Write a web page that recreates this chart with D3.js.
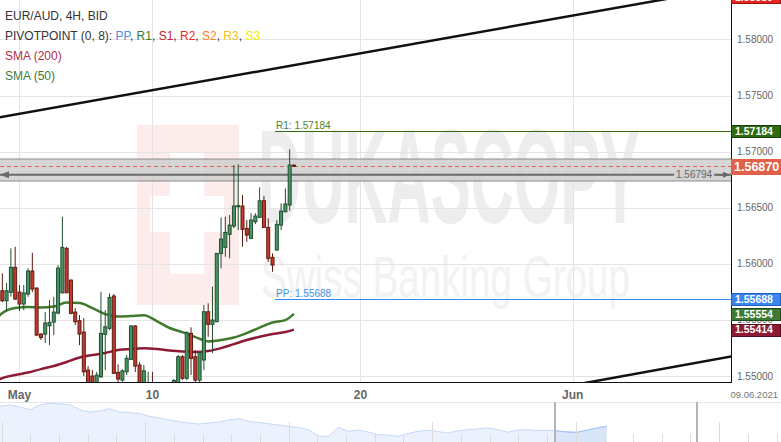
<!DOCTYPE html>
<html>
<head>
<meta charset="utf-8">
<script src="https://cdn.jsdelivr.net/npm/d3@7"></script>
<style>
  body { margin: 0; background: #fff; }
  svg { display: block; font-family: Arial, "Liberation Sans", sans-serif; }
</style>
</head>
<body>
<div id="chart"></div>
<script>
// Size of the page and of the price pane
const w = 781;
const h = 442;
const plotR = 731;
const plotB = 382;

// 4H candles, index 0 = first bar on screen
const opens  = [1.55760,1.55671,1.55746,1.55969,1.55748,1.55642,1.55731,1.55936,1.55784,1.55374,
                1.55374,1.55448,1.55481,1.55561,1.55742,1.56138,1.55855,1.55570,1.55493,1.55392,
                1.55053,1.55000,1.54938,1.54994,1.55372,1.55425,1.55713,1.55033,1.54964,1.55038,
                1.55149,1.55446,1.55098,1.54920,1.54831,1.54911,1.54880,1.54820,1.54870,1.54830,
                1.54890,1.54920,1.55172,1.54980,1.55380,1.55172,1.54964,1.55143,1.55573,1.55461,
                1.55484,1.56093,1.56147,1.56263,1.56337,1.56508,1.56515,1.56316,1.56227,1.56375,
                1.56414,1.56562,1.56325,1.56058,1.56123,1.56345,1.56464,1.56524,1.56878];
const highs  = [1.55915,1.55831,1.56138,1.56152,1.55811,1.55811,1.55962,1.56099,1.55790,1.55383,
                1.55570,1.55677,1.55707,1.55989,1.56419,1.56152,1.55860,1.55606,1.55544,1.55517,
                1.55089,1.55053,1.55036,1.55751,1.55588,1.55737,1.55731,1.55104,1.55060,1.55187,
                1.55454,1.55454,1.55125,1.55098,1.55038,1.55038,1.54930,1.54900,1.54920,1.54930,
                1.54973,1.55187,1.55187,1.55395,1.55434,1.55232,1.55220,1.55633,1.55648,1.55796,
                1.56096,1.56414,1.56419,1.56435,1.56880,1.56886,1.56613,1.56390,1.56450,1.56450,
                1.56681,1.56606,1.56405,1.56093,1.56390,1.56539,1.56672,1.57020,1.56890];
const lows   = [1.55659,1.55579,1.55707,1.55677,1.55579,1.55588,1.55707,1.55748,1.55356,1.55321,
                1.55294,1.55276,1.55365,1.55550,1.55735,1.55740,1.55550,1.55454,1.55276,1.55000,
                1.54875,1.54911,1.54911,1.54982,1.55053,1.55410,1.55018,1.54947,1.54929,1.55009,
                1.55143,1.55036,1.54880,1.54893,1.54804,1.54786,1.54780,1.54750,1.54800,1.54790,
                1.54850,1.54911,1.54964,1.54964,1.55009,1.54929,1.54920,1.55053,1.55350,1.55205,
                1.55481,1.55960,1.56063,1.56049,1.56319,1.56301,1.56152,1.56197,1.56220,1.56354,
                1.56408,1.56320,1.56018,1.55929,1.56118,1.56301,1.56460,1.56473,1.56866];
const closes = [1.55671,1.55760,1.55969,1.55686,1.55642,1.55740,1.55936,1.55775,1.55365,1.55343,
                1.55472,1.55478,1.55570,1.55962,1.56147,1.55742,1.55559,1.55484,1.55374,1.55038,
                1.54920,1.54938,1.55009,1.55380,1.55439,1.55701,1.55024,1.54973,1.55047,1.55158,
                1.55446,1.55089,1.54920,1.55047,1.54920,1.54822,1.54820,1.54870,1.54830,1.54900,
                1.54960,1.55172,1.54980,1.55389,1.55158,1.54964,1.55208,1.55573,1.55461,1.55499,
                1.56093,1.56221,1.56280,1.56345,1.56515,1.56519,1.56307,1.56256,1.56390,1.56426,
                1.56562,1.56325,1.56049,1.55989,1.56352,1.56470,1.56533,1.56880,1.56870];

// Moving averages read at some bars
const smaIdx = [-1,0,3,6,9,12,15,18,21,24,27,30,33,36,39,42,45,48,51,54,57,60,63,66,68];
const sma50  = [1.55526,1.55561,1.55606,1.55615,1.55610,1.55619,1.55655,1.55650,1.55606,1.55552,
                1.55530,1.55535,1.55541,1.55490,1.55428,1.55392,1.55347,1.55309,1.55321,1.55343,
                1.55383,1.55432,1.55477,1.55499,1.55554];
const sma200 = [1.54964,1.54982,1.55009,1.55031,1.55062,1.55089,1.55125,1.55165,1.55187,1.55205,
                1.55232,1.55241,1.55247,1.55241,1.55227,1.55218,1.55214,1.55223,1.55249,1.55285,
                1.55321,1.55350,1.55374,1.55392,1.55414];

// Levels
const pivotPP = 1.55688;
const pivotR1 = 1.57184;
const pivotStart = 63.6;
const lastPrice = 1.56870;
const zoneTop = 1.56934;
const zoneBottom = 1.56738;
const zoneLine = 1.56794;
const topTag = 1.58380;

// Trend channel, [bar, price]
const trendUpper = [[-1, 1.57303], [170, 1.58463]];
const trendLower = [[130, 1.54898], [170, 1.55174]];

// Axis ticks
const yTicks = [1.55, 1.555, 1.56, 1.565, 1.57, 1.575, 1.58];
const xTickIdx = [4, 35, 83.5, 133];
const xTickLabels = ["May", "10", "20", "Jun"];
const dateLabel = "09.06.2021";

// Legend
const title = "EUR/AUD, 4H, BID";
const pivotNames = ["PP", "R1", "S1", "R2", "S2", "R3", "S3"];
const pivotColors = ["#4a90e2", "#3d7a1e", "#c8242b", "#f0281e", "#f7861c", "#f9c01a", "#f2ea00"];

// Navigator closes (long history)
const navClose = [1.6137,1.6167,1.6122,1.6061,1.6167,1.6205,1.6190,1.6178,1.6061,1.6009,
                  1.6032,1.6083,1.6009,1.5995,1.5975,1.5912,1.5874,1.5830,1.5795,1.5760,
                  1.5739,1.5762,1.5784,1.5830,1.5858,1.5800,1.5773,1.5746,1.5717,1.5687,
                  1.5660,1.5611,1.5462,1.5462,1.5665,1.5575,1.5604,1.5560,1.5498,1.5492,
                  1.5462,1.5525,1.5575,1.5597,1.5570,1.5537,1.5582,1.5611,1.5627,1.5649,
                  1.5615,1.5552,1.5604,1.5611,1.5593,1.5597,1.5582,1.5560,1.5552,1.5600,
                  1.5649,1.5687];
const navWindow = [55.8, 70];
const navWeek = 2.884;

const svg = d3.select("#chart").append("svg")
  .attr("width", w)
  .attr("height", h);

svg.append("defs").append("clipPath").attr("id", "plotClip")
  .append("rect").attr("x", 0).attr("y", 0).attr("width", plotR).attr("height", plotB);

// Scales
const x = d3.scaleLinear().domain([-0.54, 169.9]).range([0, plotR]);
const y = d3.scaleLinear().domain([1.54947, 1.58351]).range([plotB, 0]);

const plot = svg.append("g").attr("clip-path", "url(#plotClip)");

// Watermark
const wm = plot.append("g");
wm.append("rect").attr("x", 137).attr("y", 125).attr("width", 102).attr("height", 180).attr("fill", "#fcecec");
wm.append("rect").attr("x", 170).attr("y", 152).attr("width", 34).attr("height", 122).attr("fill", "#fff");
wm.append("rect").attr("x", 150).attr("y", 196).attr("width", 74).attr("height", 36).attr("fill", "#fff");
wm.append("text")
  .attr("x", 258).attr("y", 223)
  .attr("font-size", 134).attr("font-weight", "bold")
  .attr("fill", "#ededed")
  .attr("textLength", 382).attr("lengthAdjust", "spacingAndGlyphs")
  .text("DUKASCOPY");
wm.append("text")
  .attr("x", 261).attr("y", 297)
  .attr("font-size", 58)
  .attr("fill", "#f2f2f2")
  .attr("textLength", 369).attr("lengthAdjust", "spacingAndGlyphs")
  .text("Swiss Banking Group");

// Grid
plot.selectAll(".hgrid").data(yTicks).enter().append("line")
  .attr("x1", 0).attr("x2", plotR)
  .attr("y1", d => Math.round(y(d)) + 0.5).attr("y2", d => Math.round(y(d)) + 0.5)
  .attr("stroke", "#e4e4e4");
plot.selectAll(".vgrid").data(xTickIdx).enter().append("line")
  .attr("x1", d => Math.round(x(d)) + 0.5).attr("x2", d => Math.round(x(d)) + 0.5)
  .attr("y1", 0).attr("y2", plotB)
  .attr("stroke", "#e4e4e4");

// Grey zone with its level line
plot.append("rect")
  .attr("x", 0).attr("width", plotR)
  .attr("y", y(zoneTop)).attr("height", y(zoneBottom) - y(zoneTop))
  .attr("fill", "#cfcfcf").attr("fill-opacity", 0.85);
[zoneTop, zoneBottom].forEach(v => {
  plot.append("line").attr("x1", 0).attr("x2", plotR)
    .attr("y1", y(v)).attr("y2", y(v))
    .attr("stroke", "#8a8a8a").attr("stroke-width", 1.2);
});
plot.append("line").attr("x1", 0).attr("x2", plotR)
  .attr("y1", y(zoneLine)).attr("y2", y(zoneLine))
  .attr("stroke", "#6a6a6a").attr("stroke-width", 2);
plot.append("path")
  .attr("d", `M0,${y(zoneLine)} L9,${y(zoneLine) - 3.5} L9,${y(zoneLine) + 3.5} Z`)
  .attr("fill", "#6a6a6a");
plot.append("rect")
  .attr("x", 674).attr("y", y(zoneLine) - 6).attr("width", 40).attr("height", 10)
  .attr("fill", "#d2d2d2");
plot.append("text")
  .attr("x", 676).attr("y", y(zoneLine) + 3.5)
  .attr("font-size", 10).attr("fill", "#666")
  .text(d3.format(".5f")(zoneLine));
plot.append("path")
  .attr("d", `M716,${y(zoneLine)} L724,${y(zoneLine)}`)
  .attr("stroke", "#666").attr("stroke-width", 1.5);
plot.append("path")
  .attr("d", `M730,${y(zoneLine)} L723,${y(zoneLine) - 3} L723,${y(zoneLine) + 3} Z`)
  .attr("fill", "#666");

// Current price line
plot.append("line").attr("x1", 0).attr("x2", plotR)
  .attr("y1", Math.round(y(lastPrice)) + 0.5).attr("y2", Math.round(y(lastPrice)) + 0.5)
  .attr("stroke", "#e0604a").attr("stroke-dasharray", "4,3");

// Pivot lines
const pivots = [
  {name: "R1", v: pivotR1, line: "#2e6b12", text: "#4d7f2f"},
  {name: "PP", v: pivotPP, line: "#3b87f0", text: "#4a90e2"}
];
pivots.forEach(p => {
  plot.append("line")
    .attr("x1", x(pivotStart)).attr("x2", plotR)
    .attr("y1", Math.round(y(p.v)) + 0.5).attr("y2", Math.round(y(p.v)) + 0.5)
    .attr("stroke", p.line);
  plot.append("text")
    .attr("x", x(pivotStart) + 1).attr("y", y(p.v) - 2)
    .attr("font-size", 10).attr("fill", p.text)
    .text(p.name + ": " + d3.format(".5f")(p.v));
});

// Trend channel
const lineGen = d3.line().x(d => x(d[0])).y(d => y(d[1]));
[trendUpper, trendLower].forEach(t => {
  plot.append("path").attr("d", lineGen(t))
    .attr("fill", "none").attr("stroke", "#111").attr("stroke-width", 2.5);
});

// SMA lines
const smaLine = d3.line().curve(d3.curveMonotoneX);
plot.append("path")
  .attr("d", smaLine(smaIdx.map((d, k) => [x(d), y(sma200[k])])))
  .attr("fill", "none").attr("stroke", "#8e1b36").attr("stroke-width", 2.5);
plot.append("path")
  .attr("d", smaLine(smaIdx.map((d, k) => [x(d), y(sma50[k])])))
  .attr("fill", "none").attr("stroke", "#3f7a2e").attr("stroke-width", 2.5);

// Candles
const bars = opens.map((o, i) => ({i: i, o: o, h: highs[i], l: lows[i], c: closes[i]}));
const candle = plot.selectAll(".candle").data(bars).enter().append("g");
candle.append("line")
  .attr("x1", d => x(d.i)).attr("x2", d => x(d.i))
  .attr("y1", d => y(d.h)).attr("y2", d => y(d.l))
  .attr("stroke", d => d.c >= d.o ? "#1f4f2f" : "#5e1b12");
candle.append("rect")
  .attr("x", d => x(d.i) - 1.5)
  .attr("width", 3)
  .attr("y", d => y(Math.max(d.o, d.c)))
  .attr("height", d => Math.max(1, Math.abs(y(d.o) - y(d.c))))
  .attr("fill", d => d.c >= d.o ? "#4a9565" : "#c43b2b")
  .attr("stroke", d => d.c >= d.o ? "#1f4f2f" : "#5e1b12");

// Frame
svg.append("line").attr("x1", plotR + 0.5).attr("x2", plotR + 0.5).attr("y1", 0).attr("y2", plotB + 1)
  .attr("stroke", "#111");
svg.append("line").attr("x1", 0).attr("x2", plotR + 1).attr("y1", plotB + 0.5).attr("y2", plotB + 0.5)
  .attr("stroke", "#111");

// Y axis labels
svg.selectAll(".ylab").data(yTicks).enter().append("text")
  .attr("x", 737).attr("y", d => y(d) + 3.5)
  .attr("font-size", 10).attr("fill", "#666")
  .text(d => d3.format(".5f")(d));

// Price tags on the axis
const tags = [
  {v: topTag, fill: "#e8251f", stroke: "#9a1510", big: false},
  {v: pivotR1, fill: "#2e6b12", stroke: "#173d06", big: false},
  {v: pivotPP, fill: "#3b87f0", stroke: "#1f5fbf", big: false},
  {v: sma50[sma50.length - 1], fill: "#3c7a35", stroke: "#1f4d1a", big: false},
  {v: sma200[sma200.length - 1], fill: "#8e1b36", stroke: "#5a0d1f", big: false},
  {v: lastPrice, fill: "#e0604a", stroke: "#e0604a", big: true}
];
tags.forEach(t => {
  const th = t.big ? 15 : 12;
  svg.append("rect")
    .attr("x", plotR + 0.5).attr("y", Math.round(y(t.v) - th / 2) + 0.5)
    .attr("width", 49).attr("height", th)
    .attr("fill", t.fill).attr("stroke", t.stroke);
  svg.append("text")
    .attr("x", t.big ? 734 : 735).attr("y", y(t.v) + (t.big ? 4.5 : 3.8))
    .attr("font-size", t.big ? 12.5 : 10.5).attr("font-weight", "bold")
    .attr("fill", "#fff")
    .text(d3.format(".5f")(t.v));
});

// X axis labels
svg.selectAll(".xlab").data(xTickIdx).enter().append("text")
  .attr("x", d => x(d)).attr("y", 399)
  .attr("text-anchor", "middle")
  .attr("font-size", 12).attr("font-weight", "bold").attr("fill", "#666")
  .text((d, k) => xTickLabels[k]);
svg.append("text")
  .attr("x", 778).attr("y", 398)
  .attr("text-anchor", "end")
  .attr("font-size", 9.5).attr("fill", "#777")
  .text(dateLabel);

// Navigator
const navX = d3.scaleLinear().domain([0, navClose.length - 1]).range([0, 607]);
const navY = d3.scaleLinear().domain([1.5334, 1.6234]).range([h, 402]);
const nav = svg.append("g");
nav.append("line").attr("x1", 0).attr("x2", w).attr("y1", 402.5).attr("y2", 402.5).attr("stroke", "#e6e6e6");
const navArea = d3.area().x((d, i) => navX(i)).y0(h).y1(d => navY(d));
const navLine = d3.line().x((d, i) => navX(i)).y(d => navY(d));
nav.append("path").attr("d", navArea(navClose)).attr("fill", "#ebf2fd");
nav.append("clipPath").attr("id", "navSel")
  .append("rect").attr("x", navX(navWindow[0])).attr("y", 400)
  .attr("width", navX(navWindow[1]) - navX(navWindow[0])).attr("height", 50);
nav.append("path").attr("d", navArea(navClose)).attr("fill", "#d9e6fa").attr("clip-path", "url(#navSel)");
nav.append("path").attr("d", navLine(navClose)).attr("fill", "none").attr("stroke", "#c5d9f7");
nav.append("path").attr("d", navLine(navClose)).attr("fill", "none").attr("stroke", "#9dc0f2")
  .attr("clip-path", "url(#navSel)");
nav.selectAll(".ntick").data(d3.range(0, 28)).enter().append("line")
  .attr("x1", k => Math.round(navX(0.17 + navWeek * k)) + 0.5)
  .attr("x2", k => Math.round(navX(0.17 + navWeek * k)) + 0.5)
  .attr("y1", k => k % 5 === 0 ? 422 : 434).attr("y2", h)
  .attr("stroke", "#dcdcdc");
navWindow.forEach(v => {
  nav.append("line")
    .attr("x1", Math.round(navX(v))).attr("x2", Math.round(navX(v)))
    .attr("y1", 402).attr("y2", h)
    .attr("stroke", "#b4b4b4").attr("stroke-width", 2);
});

// Legend
const legend = svg.append("g").attr("font-size", 12);
legend.append("text").attr("x", 5).attr("y", 20).attr("fill", "#333").text(title);
const piv = legend.append("text").attr("x", 5).attr("y", 40).attr("fill", "#333");
piv.append("tspan").text("PIVOTPOINT (0, 8): ");
pivotNames.forEach((n, k) => {
  piv.append("tspan").attr("fill", pivotColors[k]).text(n);
  if (k < pivotNames.length - 1) piv.append("tspan").attr("fill", "#333").text(", ");
});
legend.append("text").attr("x", 5).attr("y", 60).attr("fill", "#b0304a").text("SMA (200)");
legend.append("text").attr("x", 5).attr("y", 80).attr("fill", "#3d7a3d").text("SMA (50)");
</script>
</body>
</html>
